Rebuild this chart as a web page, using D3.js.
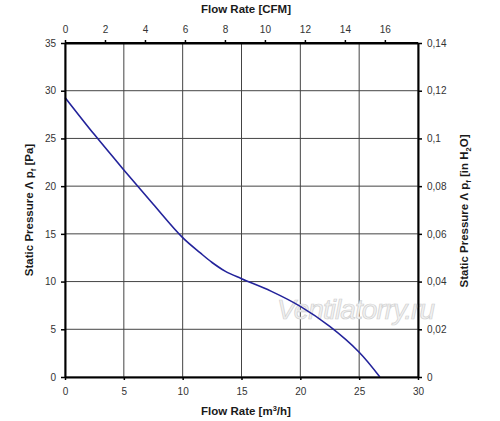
<!DOCTYPE html>
<html><head><meta charset="utf-8">
<script src="https://cdn.jsdelivr.net/npm/d3@7"></script>
<style>body{margin:0;background:#fff}svg{display:block}text{font-family:Arial,"Liberation Sans",sans-serif}</style>
</head><body><svg id="c" width="500" height="421"></svg>
<script>
const flowM3h = [0, 2.5, 5, 7.5, 10, 11.5, 12.5, 13.6, 15, 17.5, 20, 22.5, 25, 26.76];
const pressurePa = [29.3, 25.4, 21.7, 18.1, 14.6, 13.0, 12.0, 11.1, 10.3, 9.0, 7.4, 5.3, 2.6, 0];
const bottomTicks = [0, 5, 10, 15, 20, 25, 30];
const topTicks = [0, 2, 4, 6, 8, 10, 12, 14, 16];
const leftTicks = [0, 5, 10, 15, 20, 25, 30, 35];
const rightTicks = [0, 0.02, 0.04, 0.06, 0.08, 0.1, 0.12, 0.14];

const svg = d3.select("#c");
const L = 65, R = 418, T = 43, B = 377;
const x = d3.scaleLinear().domain([0, 30]).range([L, R]);
const xTop = d3.scaleLinear().domain([0, 30 / 1.699]).range([L, R]);
const y = d3.scaleLinear().domain([0, 35]).range([B, T]);
const yR = d3.scaleLinear().domain([0, 0.14]).range([B, T]);

const g = svg.append("g");
g.selectAll(".vg").data(bottomTicks).join("line")
  .attr("x1", d => x(d)).attr("x2", d => x(d)).attr("y1", T).attr("y2", B)
  .attr("stroke", "#444").attr("stroke-width", 1);
g.selectAll(".hg").data(leftTicks).join("line")
  .attr("y1", d => y(d)).attr("y2", d => y(d)).attr("x1", L).attr("x2", R)
  .attr("stroke", "#444").attr("stroke-width", 1);

svg.append("text").attr("x", 356).attr("y", 319).attr("text-anchor", "middle")
  .attr("font-size", 28).attr("font-style", "italic").attr("textLength", 158)
  .attr("fill", "#f2f2f2").attr("stroke", "#d0d0d0").attr("stroke-width", 0.7)
  .text("Ventilatorry.ru");

const pts = flowM3h.map((v, i) => [v, pressurePa[i]]);
svg.append("path").datum(pts)
  .attr("d", d3.line().x(d => x(d[0])).y(d => y(d[1])).curve(d3.curveCatmullRom.alpha(0.5)))
  .attr("fill", "none").attr("stroke", "#23239b").attr("stroke-width", 1.6);

function styleAxis(sel){
  sel.select(".domain").attr("stroke", "#000").attr("stroke-width", 2);
  sel.selectAll(".tick line").attr("stroke", "#000").attr("stroke-width", 1.5);
  sel.selectAll(".tick text").attr("fill", "#333").attr("font-size", 10)
    .attr("font-family", "Arial, 'Liberation Sans', sans-serif");
}
const fmtComma = d => d3.format("")(d).replace(".", ",");
svg.append("g").attr("transform", `translate(0,${B})`)
  .call(d3.axisBottom(x).tickValues(bottomTicks).tickSize(3).tickSizeOuter(0).tickPadding(8))
  .call(styleAxis);
svg.append("g").attr("transform", `translate(0,${T})`)
  .call(d3.axisTop(xTop).tickValues(topTicks).tickSize(3).tickSizeOuter(0).tickPadding(7))
  .call(styleAxis);
svg.append("g").attr("transform", `translate(${L},0)`)
  .call(d3.axisLeft(y).tickValues(leftTicks).tickSize(4).tickSizeOuter(0).tickPadding(5))
  .call(styleAxis);
svg.append("g").attr("transform", `translate(${R},0)`)
  .call(d3.axisRight(yR).tickValues(rightTicks).tickSize(4).tickSizeOuter(0).tickPadding(5).tickFormat(fmtComma))
  .call(styleAxis);
svg.append("line").attr("x1", L).attr("x2", R).attr("y1", T).attr("y2", T).attr("stroke", "#000").attr("stroke-width", 2);

svg.append("text").attr("x", 246).attr("y", 12.5).attr("text-anchor", "middle")
  .attr("font-size", 11.5).attr("font-weight", "bold").attr("fill", "#1a1a1a").text("Flow Rate [CFM]");
const bt = svg.append("text").attr("x", 246).attr("y", 415).attr("text-anchor", "middle")
  .attr("font-size", 11.5).attr("font-weight", "bold").attr("fill", "#1a1a1a");
bt.append("tspan").text("Flow Rate [m");
bt.append("tspan").attr("font-size", 7.5).attr("dy", -4).text("3");
bt.append("tspan").attr("dy", 4).text("/h]");

const lt = svg.append("text").attr("transform", "translate(33,210) rotate(-90)").attr("text-anchor", "middle")
  .attr("font-size", 11.5).attr("font-weight", "bold").attr("fill", "#1a1a1a");
lt.append("tspan").text("Static Pressure Λ p");
lt.append("tspan").attr("font-size", 7.5).attr("dy", 3).text("f");
lt.append("tspan").attr("dy", -3).text(" [Pa]");

const rt = svg.append("text").attr("transform", "translate(468,211) rotate(-90)").attr("text-anchor", "middle")
  .attr("font-size", 11.5).attr("font-weight", "bold").attr("fill", "#1a1a1a");
rt.append("tspan").text("Static Pressure Λ p");
rt.append("tspan").attr("font-size", 7.5).attr("dy", 3).text("f");
rt.append("tspan").attr("dy", -3).text(" [in H");
rt.append("tspan").attr("font-size", 7.5).attr("dy", 3).text("2");
rt.append("tspan").attr("dy", -3).text("O]");
</script></body></html>
